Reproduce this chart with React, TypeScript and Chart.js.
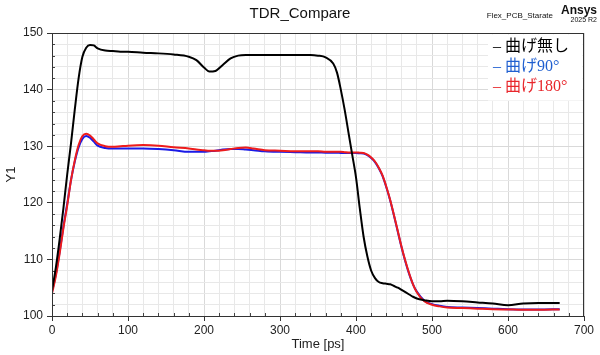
import React, { useEffect, useRef } from "react";
import { Chart, registerables } from "chart.js";

Chart.register(...registerables);

const titleText = "TDR_Compare";
const projectText = "Flex_PCB_Starate";
const brandText = "Ansys";
const versionText = "2025 R2";
const xTitle = "Time [ps]";
const yTitle = "Y1";

const seriesLabels = ["曲げ無し", "曲げ90°", "曲げ180°"];
const seriesColors = ["#000000", "#1a1ae6", "#ee1c1c"];
const legendTextColors = ["#000000", "#1f5fd0", "#e8262b"];

const times = [0, 5, 10, 15, 20, 25, 30, 35, 40, 45, 50, 55, 60, 70, 80, 90, 100, 120, 140, 160, 180, 190, 200, 207, 215, 225, 235, 245, 255, 265, 280, 300, 320, 340, 350, 360, 370, 375, 380, 385, 390, 395, 400, 405, 410, 415, 420, 425, 430, 435, 440, 445, 450, 455, 460, 465, 470, 475, 480, 490, 500, 510, 520, 540, 560, 580, 600, 620, 640, 668];

const noBend = [104.5, 108.5, 113.5, 119, 125, 130.5, 136.5, 142, 145.8, 147.4, 147.9, 147.8, 147.3, 146.9, 146.8, 146.7, 146.7, 146.5, 146.4, 146.2, 145.8, 145.2, 143.9, 143.2, 143.3, 144.4, 145.5, 146.0, 146.1, 146.1, 146.1, 146.1, 146.1, 146.1, 146.0, 145.7, 144.6, 143, 140, 136.5, 132.5, 128.5, 124.5, 119, 114, 110.5, 108, 106.7, 106.0, 105.8, 105.7, 105.6, 105.3, 105.0, 104.6, 104.2, 103.8, 103.4, 103.1, 102.8, 102.6, 102.6, 102.7, 102.6, 102.4, 102.2, 101.9, 102.2, 102.3, 102.3];

const bend90 = [104.3, 107.3, 111.3, 115.8, 119.8, 124, 127.3, 129.8, 131.3, 131.8, 131.5, 130.8, 130.1, 129.7, 129.6, 129.6, 129.6, 129.6, 129.5, 129.3, 129.0, 129.0, 129.0, 129.1, 129.2, 129.4, 129.5, 129.5, 129.4, 129.3, 129.1, 129.0, 128.95, 128.9, 128.9, 128.85, 128.85, 128.85, 128.8, 128.8, 128.8, 128.8, 128.8, 128.75, 128.7, 128.4, 127.9, 127.2, 126.1, 124.7, 122.7, 120.4, 117.7, 114.9, 112.1, 109.6, 107.4, 105.6, 104.3, 102.7, 102.1, 101.8, 101.6, 101.5, 101.4, 101.3, 101.2, 101.15, 101.15, 101.2];

const bend180 = [104.0, 107, 111, 115.5, 119.5, 124, 127.5, 130.2, 131.8, 132.2, 131.9, 131.2, 130.5, 130.0, 129.9, 130.0, 130.1, 130.2, 130.1, 129.8, 129.6, 129.4, 129.3, 129.2, 129.2, 129.3, 129.5, 129.7, 129.75, 129.6, 129.3, 129.2, 129.1, 129.1, 129.1, 129.0, 129.0, 129.0, 129.0, 128.95, 128.9, 128.9, 128.9, 128.85, 128.8, 128.5, 128.0, 127.3, 126.2, 124.8, 122.8, 120.5, 117.8, 115.0, 112.2, 109.7, 107.5, 105.6, 104.2, 102.6, 102.0, 101.7, 101.5, 101.4, 101.3, 101.2, 101.15, 101.1, 101.1, 101.15];

const seriesValues = [noBend, bend90, bend180];
const drawOrder = [0, 2, 1];

const xMin = 0, xMax = 700, xStep = 20, xLabelStep = 100;
const yMin = 100, yMax = 150, yStep = 2, yLabelStep = 10;

const SANS = "'Liberation Sans', Arial, sans-serif";
const LEGEND_FONT = "'Liberation Serif', 'Noto Sans CJK JP', serif";

const decorPlugin = {
  id: "decor",
  beforeDatasetsDraw(chart: any) {
    const { ctx, chartArea } = chart;
    const xs = chart.scales.x;
    const ys = chart.scales.y;
    ctx.save();
    ctx.strokeStyle = "#444";
    ctx.lineWidth = 1;
    for (let v = yMin + yStep; v < yMax; v += yStep) {
      if (v % yLabelStep === 0) continue;
      const py = Math.round(ys.getPixelForValue(v)) + 0.5;
      ctx.beginPath();
      ctx.moveTo(chartArea.left, py);
      ctx.lineTo(chartArea.left + 3, py);
      ctx.stroke();
    }
    for (let v = xMin + xStep; v < xMax; v += xStep) {
      if (v % xLabelStep === 0) continue;
      const px = Math.round(xs.getPixelForValue(v)) + 0.5;
      ctx.beginPath();
      ctx.moveTo(px, chartArea.bottom);
      ctx.lineTo(px, chartArea.bottom - 3);
      ctx.stroke();
    }
    ctx.restore();
  },
  afterDatasetsDraw(chart: any) {
    const { ctx, chartArea } = chart;
    ctx.save();
    ctx.strokeStyle = "#333";
    ctx.lineWidth = 1;
    ctx.strokeRect(Math.round(chartArea.left) + 0.5, Math.round(chartArea.top) + 0.5, Math.round(chartArea.right - chartArea.left) - 1, Math.round(chartArea.bottom - chartArea.top));
    const bx = chartArea.right - 96;
    ctx.fillStyle = "#ffffff";
    ctx.fillRect(bx, chartArea.top + 1.5, chartArea.right - bx - 1.5, 66);
    ctx.font = "16px " + LEGEND_FONT;
    ctx.textBaseline = "middle";
    ctx.textAlign = "left";
    chart.data.datasets.forEach((ds: any, i: number) => {
      const y = chartArea.top + 14 + i * 20;
      ctx.fillStyle = legendTextColors[i];
      ctx.fillText("– " + ds.label, bx + 5, y);
    });
    ctx.fillStyle = "#111";
    ctx.textAlign = "center";
    ctx.font = "15px " + SANS;
    ctx.fillText(titleText, 300, 14);
    ctx.font = "8px " + SANS;
    ctx.textAlign = "right";
    ctx.fillText(projectText, 553, 16);
    ctx.font = "bold 12px " + SANS;
    ctx.fillText(brandText, 597, 11);
    ctx.font = "7px " + SANS;
    ctx.fillText(versionText, 597, 20);
    ctx.restore();
  },
};

export default function App() {
  const ref = useRef<HTMLCanvasElement | null>(null);
  useEffect(() => {
    document.body.style.margin = "0";
    if (!ref.current) return;
    const chart = new Chart(ref.current, {
      type: "line",
      data: {
        datasets: seriesLabels.map((label, i) => ({
          label,
          data: times.map((t, k) => ({ x: t, y: seriesValues[i][k] })),
          borderColor: seriesColors[i],
          backgroundColor: seriesColors[i],
          borderWidth: 2,
          pointRadius: 0,
          tension: 0.4,
          cubicInterpolationMode: "monotone",
          fill: false,
          order: drawOrder[i],
        })),
      },
      options: {
        responsive: false,
        animation: false,
        layout: { padding: { top: 33, right: 16, left: 0, bottom: 0 } },
        plugins: { legend: { display: false }, title: { display: false }, tooltip: { enabled: false } },
        scales: {
          x: {
            type: "linear",
            min: xMin,
            max: xMax,
            afterFit(scale: any) { scale.height = 39; },
            ticks: {
              stepSize: xStep,
              autoSkip: false,
              maxRotation: 0,
              padding: 2,
              color: "#222",
              font: { family: SANS, size: 12 },
              callback: (v: any) => (Number(v) % xLabelStep === 0 ? String(v) : ""),
            },
            grid: {
              color: (c: any) => (c.tick && c.tick.value % xLabelStep === 0 ? "#d9d9d9" : "#e8e8e8"),
              tickLength: 5,
              tickColor: (c: any) => (c.tick && c.tick.value % xLabelStep === 0 ? "#333" : "rgba(0,0,0,0)"),
            },
            border: { display: true, color: "#333" },
            title: { display: true, text: xTitle, color: "#222", font: { family: SANS, size: 13 }, padding: { top: 0, bottom: 3 } },
          },
          y: {
            type: "linear",
            min: yMin,
            max: yMax,
            afterFit(scale: any) { scale.width = 52; },
            ticks: {
              stepSize: yStep,
              autoSkip: false,
              padding: 4,
              color: "#222",
              font: { family: SANS, size: 12 },
              callback: (v: any) => (Number(v) % yLabelStep === 0 ? String(v) : ""),
            },
            grid: {
              color: (c: any) => (c.tick && c.tick.value % yLabelStep === 0 ? "#d9d9d9" : "#e8e8e8"),
              tickLength: 5,
              tickColor: (c: any) => (c.tick && c.tick.value % yLabelStep === 0 ? "#333" : "rgba(0,0,0,0)"),
            },
            border: { display: true, color: "#333" },
            title: { display: true, text: yTitle, color: "#222", font: { family: SANS, size: 13 }, padding: { top: 4, bottom: 0 } },
          },
        },
      } as any,
      plugins: [decorPlugin],
    });
    return () => chart.destroy();
  }, []);
  return (
    <div style={{ width: 600, height: 355 }}>
      <canvas ref={ref} width={600} height={355} style={{ display: "block" }} />
    </div>
  );
}
